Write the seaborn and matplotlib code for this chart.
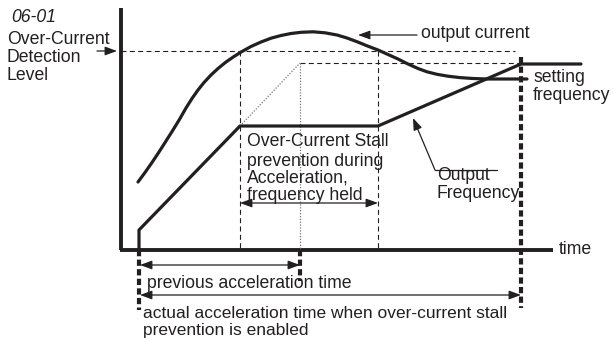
import matplotlib
matplotlib.use("Agg")
import matplotlib.pyplot as plt
import seaborn as sns

sns.set_theme(style="white")
plt.rcParams["font.family"] = ["Liberation Sans", "DejaVu Sans"]

INK = "#231f20"

# Schematic coordinates: x runs with time, y grows downward (0 at the top edge).
AXIS_X0, AXIS_Y0 = 121, 250
TIME_END = 553
LEVEL_TOP = 8

# Output current curve (rises, overshoots the detection level, then settles)
current_t = [138, 145, 152, 159, 166, 173, 180, 186, 192, 198, 204, 211, 218, 226,
             234, 242, 251, 261, 271, 281, 291, 301, 313, 325, 337, 347, 357, 367,
             378, 388, 398, 408, 418, 427, 437, 448, 460, 473, 487, 505, 527]
current_v = [182, 172.5, 162.5, 152, 141, 130, 118.5, 108, 98.5, 90, 82.5, 75, 68.5, 62,
             56.5, 51.5, 46.5, 42, 38.2, 35.5, 33.5, 32.3, 31.8, 32.8, 35, 38, 41.7, 45.8,
             50, 54.5, 59, 64, 68.5, 71.8, 74.3, 76.2, 77.6, 78.5, 79, 79, 79]

# Output frequency: start step, ramp, hold during stall prevention, ramp to setting
freq_t = [139, 139, 240, 378, 521, 581]
freq_v = [250, 230, 126, 126, 64, 64]

# Original (uninterrupted) acceleration ramp
ramp_t = [240, 300]
ramp_v = [126, 63]

detect_level = 51
setting_level = 63
t_stall_start, t_prev_end, t_stall_end, t_actual_end = 240, 300, 378, 521
t_start = 139

fig = plt.figure(figsize=(6.14, 3.38), dpi=100)
ax = fig.add_axes([0, 0, 1, 1])
ax.set_xlim(0, 614)
ax.set_ylim(338, 0)
ax.axis("off")

# Axes of the diagram
ax.plot([AXIS_X0, AXIS_X0], [LEVEL_TOP, AXIS_Y0], color=INK, lw=2.8, solid_capstyle="butt")
ax.plot([AXIS_X0 - 1, TIME_END], [AXIS_Y0, AXIS_Y0], color=INK, lw=2.8, solid_capstyle="butt")

thin_dash = (0, (4.5, 3))
# Detection level and setting frequency reference lines
ax.plot([AXIS_X0, 515], [detect_level, detect_level], color=INK, lw=0.8, ls=thin_dash)
ax.plot([t_prev_end, t_actual_end], [setting_level, setting_level], color=INK, lw=0.8, ls=thin_dash)
# Stall-prevention window
for tx in (t_stall_start, t_stall_end):
    ax.plot([tx, tx], [detect_level, AXIS_Y0], color=INK, lw=0.8, ls=thin_dash)
# Previous acceleration end (dotted)
ax.plot([t_prev_end, t_prev_end], [setting_level, AXIS_Y0], color="#777777", lw=0.9, ls=(0, (1, 1.3)))
sns.lineplot(x=ramp_t, y=ramp_v, ax=ax, color="#777777", lw=0.9, ls=(0, (1, 1.3)),
             sort=False, estimator=None)

# Heavy dashed time markers
thick_dash = (0, (1.5, 0.8))
ax.plot([t_start, t_start], [AXIS_Y0, 310], color=INK, lw=3, ls=thick_dash)
ax.plot([t_prev_end, t_prev_end], [AXIS_Y0, 281], color=INK, lw=3, ls=thick_dash)
ax.plot([t_actual_end, t_actual_end], [57, 308], color=INK, lw=3, ls=thick_dash)

# Curves
sns.lineplot(x=current_t, y=current_v, ax=ax, color=INK, lw=2.3, sort=False, estimator=None)
sns.lineplot(x=freq_t, y=freq_v, ax=ax, color=INK, lw=2.3, sort=False, estimator=None)

def arrow(x0, y0, x1, y1, style="-|>", lw=0.9):
    ax.annotate("", xy=(x1, y1), xytext=(x0, y0),
                arrowprops=dict(arrowstyle=style + ",head_length=0.6,head_width=0.22",
                                color=INK, lw=lw, shrinkA=0, shrinkB=0))

arrow(97, detect_level, 117, detect_level)
arrow(417, 35, 358, 35)
ax.plot([497, 435], [170, 170], color=INK, lw=0.9)
arrow(435, 170, 413, 118)
arrow(t_stall_start, 203, t_stall_end, 203, "<|-|>")
arrow(t_start + 1, 265, t_prev_end, 265, "<|-|>")
arrow(t_start + 1, 295, t_actual_end, 295, "<|-|>")

FS = 12.7
def label(x, y, s, size=FS, **kw):
    ax.text(x, y, s, fontsize=size, color=INK, ha="left", va="center", **kw)

label(11, 18, "06-01", style="italic")
for yy, s in zip([40, 57, 75], ["Over-Current", "Detection", "Level"]):
    label(7, yy, s)
label(421, 34, "output current")
label(533, 78, "setting")
label(533, 96, "frequency")
for yy, s in zip([142, 161, 178, 195],
                 ["Over-Current Stall", "prevention during", "Acceleration,", "frequency held"]):
    label(247, yy, s)
label(437, 176, "Output")
label(437, 193, "Frequency")
label(559, 250, "time")
label(147, 283, "previous acceleration time")
label(143, 313.5, "actual acceleration time when over-current stall", size=12.5)
label(143, 331, "prevention is enabled", size=12.5)

fig.savefig("out.png", dpi=100)
